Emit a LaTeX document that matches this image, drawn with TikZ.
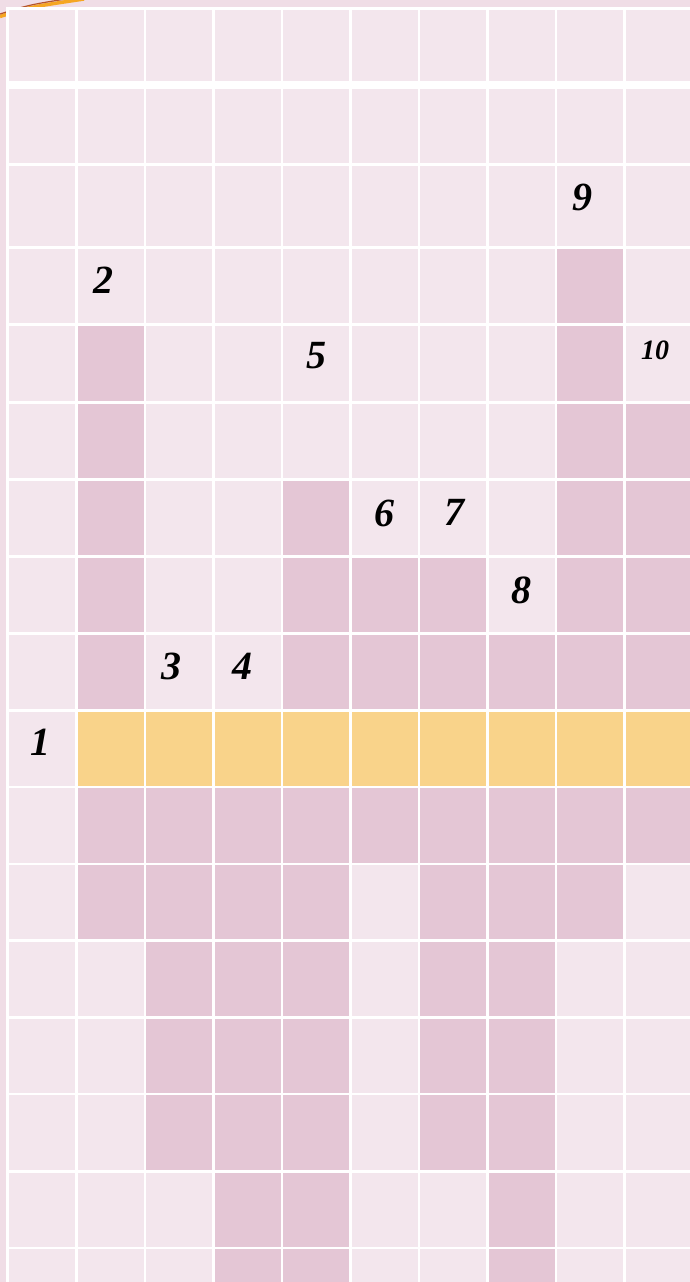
\documentclass[tikz,border=0pt]{standalone}
\usepackage{fontspec}
\setmainfont{Liberation Serif}
\usetikzlibrary{fit}

\definecolor{pagepink}{HTML}{F0DDE6}
\definecolor{cellpink}{HTML}{F3E6ED}
\definecolor{shadepink}{HTML}{E4C6D5}
\definecolor{keygold}{HTML}{F9D38A}
\definecolor{pencilorange}{HTML}{F5A623}
\definecolor{pencilbrown}{HTML}{B5542A}

\begin{document}
\begin{tikzpicture}[x=1pt,y=-1pt,
 cell/.style={rectangle,fill=cellpink,draw=none,inner sep=0pt,outer sep=0pt,
 minimum width=66pt,anchor=north west},
 darkcell/.style={rectangle,fill=shadepink,draw=none,inner sep=0pt,outer sep=0pt},
 goldcell/.style={rectangle,fill=keygold,draw=none,inner sep=0pt,outer sep=0pt},
 clue/.style={font=\fontsize{40}{40}\selectfont\bfseries\itshape,inner sep=0pt},
 smallclue/.style={font=\fontsize{28}{28}\selectfont\bfseries\itshape,inner sep=0pt}]
\useasboundingbox (0,0) rectangle (690,1282);
\clip (0,0) rectangle (690,1282);
\fill[pagepink] (0,0) rectangle (690,1282);
% pencil tip in the corner
\draw[pencilorange,line width=3.5pt] (0,16.5) .. controls (30,7) .. (84,-1);
\draw[pencilbrown,line width=1.2pt] (0,14) .. controls (30,4.5) .. (82,-3.5);
\fill[white] (6,7) rectangle (690,1282);
% grid of cells
\foreach \r/\ytop/\h in {1/10/71, 2/89/74, 3/166/80, 4/249/74, 5/326/75,
 6/404/74, 7/481/74, 8/558/74, 9/635/74, 10/712/74, 11/788/75, 12/865/74,
 13/942/74, 14/1019/74, 15/1095/75, 16/1173/74, 17/1249/74}
 \foreach \c in {1,...,10}
 \node[cell,minimum height=\h pt] (cell-\r-\c) at ({9+68.5*(\c-1)},\ytop) {};
% shaded letters
\foreach \r/\c in {4/9, 5/2, 5/9, 6/2, 6/9, 6/10, 7/2, 7/5, 7/9, 7/10,
 8/2, 8/5, 8/6, 8/7, 8/9, 8/10, 9/2, 9/5, 9/6, 9/7, 9/8, 9/9, 9/10,
 11/2, 11/3, 11/4, 11/5, 11/6, 11/7, 11/8, 11/9, 11/10,
 12/2, 12/3, 12/4, 12/5, 12/7, 12/8, 12/9,
 13/3, 13/4, 13/5, 13/7, 13/8, 14/3, 14/4, 14/5, 14/7, 14/8,
 15/3, 15/4, 15/5, 15/7, 15/8, 16/4, 16/5, 16/8, 17/4, 17/5, 17/8}
 \node[darkcell,fit=(cell-\r-\c)] (dark-\r-\c) {};
% key word
\foreach \c in {2,...,10}
 \node[goldcell,fit=(cell-10-\c)] (gold-\c) {};
% numbers
\node[clue] (n1) at (40,742) {1};
\node[clue] (n2) at (103,280) {2};
\node[clue] (n3) at (171,666) {3};
\node[clue] (n4) at (242,666) {4};
\node[clue] (n5) at (316,356) {5};
\node[clue] (n6) at (384,513) {6};
\node[clue] (n7) at (454,512) {7};
\node[clue] (n8) at (521,590) {8};
\node[clue] (n9) at (582,197) {9};
\node[smallclue] (n10) at (655,350) {10};
\end{tikzpicture}
\end{document}
